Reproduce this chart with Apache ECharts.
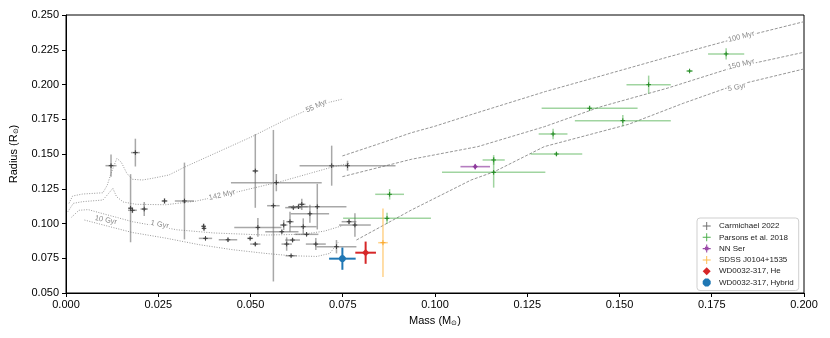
<!DOCTYPE html>
<html>
<head>
<meta charset="utf-8">
<script src="https://cdn.jsdelivr.net/npm/echarts@6/dist/echarts.min.js"></script>
<style>
  html, body { margin: 0; padding: 0; background: #fff; }
  #chart { width: 830px; height: 338px; }
</style>
</head>
<body>
<div id="chart"></div>
<script>
// each point: [mass, radius, massErr, radiusErr]
var carmichael = [
  [0.0122, 0.1416, 0.0015, 0.0080], [0.0188, 0.1510, 0.0012, 0.0100],
  [0.0175, 0.1110, 0.0006, 0.0245], [0.0180, 0.1095, 0.0012, 0.0020],
  [0.0212, 0.1104, 0.0010, 0.0050], [0.0267, 0.1162, 0.0008, 0.0020],
  [0.0321, 0.1162, 0.0026, 0.0276], [0.0373, 0.0980, 0.0005, 0.0020],
  [0.0374, 0.0965, 0.0005, 0.0015], [0.0378, 0.0893, 0.0018, 0.0010],
  [0.0439, 0.0883, 0.0025, 0.0015], [0.0499, 0.0893, 0.0008, 0.0010],
  [0.0513, 0.0852, 0.0014, 0.0015], [0.0513, 0.1378, 0.0008, 0.0265],
  [0.0520, 0.0972, 0.0064, 0.0068], [0.0570, 0.1294, 0.0123, 0.0062],
  [0.0562, 0.1128, 0.0017, 0.0545], [0.0720, 0.1416, 0.0006, 0.0144],
  [0.0763, 0.1416, 0.0130, 0.0036], [0.0616, 0.1114, 0.0022, 0.0010],
  [0.0630, 0.1121, 0.0025, 0.0015], [0.0639, 0.1138, 0.0010, 0.0040],
  [0.0681, 0.1121, 0.0079, 0.0164], [0.0661, 0.1070, 0.0052, 0.0065],
  [0.0590, 0.0989, 0.0010, 0.0036], [0.0585, 0.0941, 0.0045, 0.0010],
  [0.0607, 0.1013, 0.0010, 0.0072], [0.0643, 0.0977, 0.0036, 0.0060],
  [0.0652, 0.0922, 0.0032, 0.0012], [0.0598, 0.0852, 0.0014, 0.0048],
  [0.0614, 0.0881, 0.0020, 0.0015], [0.0677, 0.0852, 0.0027, 0.0043],
  [0.0733, 0.0833, 0.0054, 0.0048], [0.0610, 0.0768, 0.0015, 0.0008],
  [0.0767, 0.1013, 0.0020, 0.0018], [0.0783, 0.0989, 0.0043, 0.0084]
];
var parsons = [
  [0.1789, 0.2220, 0.0049, 0.0040], [0.1690, 0.2097, 0.0009, 0.0006],
  [0.1579, 0.1999, 0.0060, 0.0065], [0.1419, 0.1829, 0.0130, 0.0020],
  [0.1509, 0.1740, 0.0130, 0.0040], [0.1320, 0.1644, 0.0039, 0.0038],
  [0.1329, 0.1500, 0.0070, 0.0015], [0.1159, 0.1457, 0.0030, 0.0035],
  [0.1159, 0.1368, 0.0140, 0.0110], [0.0877, 0.1210, 0.0039, 0.0038],
  [0.0870, 0.1037, 0.0119, 0.0040]
];
var nnSer = [[0.1109, 0.1409, 0.0040, 0.0020]];
var sdss = [[0.0859, 0.0862, 0.0013, 0.0246]];
var wdHe = [[0.0812, 0.0790, 0.0028, 0.0080]];
var wdHybrid = [[0.0749, 0.0747, 0.0036, 0.0080]];

// isochrones: [mass, radius]
var iso55Myr = [[0.0008,0.1145],[0.0018,0.1198],[0.0045,0.1212],[0.0100,0.1221],[0.0112,0.1277],
  [0.0122,0.1361],[0.0138,0.1469],[0.0150,0.1440],[0.0165,0.1360],[0.0180,0.1318],[0.0207,0.1313],
  [0.0234,0.1325],[0.0279,0.1349],[0.0324,0.1409],[0.0414,0.1517],[0.0504,0.1625],[0.0594,0.1745],
  [0.0684,0.1853],[0.0751,0.1896]];
var iso142Myr = [[0.0005,0.1085],[0.0020,0.1145],[0.0045,0.1157],[0.0100,0.1169],[0.0115,0.1215],
  [0.0127,0.1253],[0.0137,0.1193],[0.0155,0.1155],[0.0190,0.1138],[0.0270,0.1135],[0.0350,0.1160],
  [0.0430,0.1205],[0.0500,0.1250],[0.0580,0.1300],[0.0660,0.1360],[0.0720,0.1405],[0.0770,0.1433]];
var iso1Gyr = [[0.0015,0.1045],[0.0035,0.1095],[0.0060,0.1100],[0.0090,0.1078],[0.0180,0.1013],
  [0.0300,0.0955],[0.0400,0.0932],[0.0540,0.0917],[0.0640,0.0922],[0.0700,0.0945],[0.0750,0.0985]];
var iso10Gyr = [[0.0050,0.1025],[0.0100,0.0990],[0.0180,0.0935],[0.0270,0.0895],[0.0360,0.0848],
  [0.0450,0.0812],[0.0540,0.0785],[0.0610,0.0768],[0.0680,0.0763],[0.0715,0.0785],[0.0738,0.0865]];
var iso100Myr = [[0.0749,0.1486],[0.0850,0.1575],[0.0936,0.1653],[0.1000,0.1700],[0.1100,0.1785],
  [0.1300,0.1950],[0.1449,0.2061],[0.1629,0.2196],[0.1800,0.2320],[0.2000,0.2452]];
var iso150Myr = [[0.0749,0.1337],[0.0936,0.1462],[0.1116,0.1553],[0.1296,0.1696],[0.1449,0.1840],
  [0.1629,0.1973],[0.1800,0.2116],[0.2000,0.2232]];
var iso5Gyr = [[0.0787,0.0881],[0.0936,0.1097],[0.1026,0.1217],[0.1098,0.1313],[0.1161,0.1373],
  [0.1296,0.1553],[0.1525,0.1714],[0.1673,0.1865],[0.1800,0.1984],[0.2000,0.2112]];

// inline curve labels: [text, mass, radius, angle]
var isoLabels = [
  ['55 Myr', 0.0679, 0.1845, 24], ['142 Myr', 0.0423, 0.1205, 13],
  ['1 Gyr', 0.0254, 0.0993, -11], ['10 Gyr', 0.0108, 0.1025, -11],
  ['100 Myr', 0.1830, 0.2344, 14], ['150 Myr', 0.1830, 0.2145, 13],
  ['5 Gyr', 0.1818, 0.1980, 13]
];

var xTicks = [0, 0.025, 0.05, 0.075, 0.1, 0.125, 0.15, 0.175, 0.2];
var yTicks = [0.05, 0.075, 0.1, 0.125, 0.15, 0.175, 0.2, 0.225, 0.25];

var FONT = '"Liberation Sans", Arial, sans-serif';
var PLUS = 'path://M4.4,0H5.6V4.4H10V5.6H5.6V10H4.4V5.6H0V4.4H4.4Z';
var PLUS_DOT = 'path://M4.3,0H5.7V2.8H7.2V4.3H10V5.7H7.2V7.2H5.7V10H4.3V7.2H2.8V5.7H0V4.3H2.8V2.8H4.3Z';
var DIAMOND = 'path://M5,0L10,5L5,10L0,5Z';
var OCTAGON = 'path://M3,0H7L10,3V7L7,10H3L0,7V3Z';

function marker(kind, c, s, color) {
  if (kind === 'diamond') {
    return { type: 'polygon', shape: { points: [[c[0], c[1] - s], [c[0] + s, c[1]], [c[0], c[1] + s], [c[0] - s, c[1]]] }, style: { fill: color } };
  }
  if (kind === 'octagon') {
    var pts = [];
    for (var i = 0; i < 8; i++) {
      var a = Math.PI / 8 + i * Math.PI / 4;
      pts.push([c[0] + s * Math.cos(a), c[1] + s * Math.sin(a)]);
    }
    return { type: 'polygon', shape: { points: pts }, style: { fill: color } };
  }
  var kids = [
    { type: 'line', shape: { x1: c[0] - s, y1: c[1], x2: c[0] + s, y2: c[1] }, style: { stroke: color, lineWidth: 1 } },
    { type: 'line', shape: { x1: c[0], y1: c[1] - s, x2: c[0], y2: c[1] + s }, style: { stroke: color, lineWidth: 1 } }
  ];
  if (kind === 'dot') kids.push({ type: 'circle', shape: { cx: c[0], cy: c[1], r: 1.8 }, style: { fill: color } });
  return { type: 'group', children: kids };
}

function errorBars(barColor, barWidth, kind, markColor, size) {
  return function (params, api) {
    var m = api.value(0), r = api.value(1), dm = api.value(2), dr = api.value(3);
    var c = api.coord([m, r]);
    var xa = api.coord([m - dm, r])[0], xb = api.coord([m + dm, r])[0];
    var ya = api.coord([m, r - dr])[1], yb = api.coord([m, r + dr])[1];
    var st = { stroke: barColor, lineWidth: barWidth };
    return {
      type: 'group',
      children: [
        { type: 'line', shape: { x1: xa, y1: c[1], x2: xb, y2: c[1] }, style: st },
        { type: 'line', shape: { x1: c[0], y1: ya, x2: c[0], y2: yb }, style: st },
        marker(kind, c, size, markColor)
      ]
    };
  };
}

function isoLine(data, dash) {
  return {
    type: 'line', data: data, showSymbol: false, silent: true, z: 1,
    lineStyle: { color: dash ? '#8a8a8a' : '#9a9a9a', width: dash ? 0.9 : 1, type: dash ? [3, 1.6] : [1, 1.5] }
  };
}

function pointSeries(name, data, color, renderItem, z) {
  return { type: 'custom', name: name, data: data, renderItem: renderItem, itemStyle: { color: color }, z: z };
}

var chart = echarts.init(document.getElementById('chart'), null, { renderer: 'canvas' });

var option = {
  animation: false,
  backgroundColor: '#fff',
  textStyle: { fontFamily: FONT },
  grid: { left: 63, right: 26, top: 15, bottom: 45, show: true, borderColor: '#000', borderWidth: 1 },
  xAxis: {
    type: 'value', min: xTicks[0], max: xTicks[xTicks.length - 1], interval: 0.025,
    name: 'Mass (M{s|⊙})', nameLocation: 'middle', nameGap: 21,
    nameTextStyle: { fontSize: 11, color: '#000', fontFamily: FONT, rich: { s: { fontSize: 7, verticalAlign: 'bottom', padding: [6, 0, 0, 0] } } },
    axisLine: { show: true, onZero: false, lineStyle: { color: '#000', width: 1 } },
    axisTick: { show: true, length: 4, lineStyle: { color: '#000' } },
    axisLabel: { fontSize: 11, color: '#000', margin: 6, fontFamily: FONT, formatter: function (v) { return v.toFixed(3); } },
    splitLine: { show: false }
  },
  yAxis: {
    type: 'value', min: yTicks[0], max: yTicks[yTicks.length - 1], interval: 0.025,
    name: 'Radius (R{s|⊙})', nameLocation: 'middle', nameGap: 46,
    nameTextStyle: { fontSize: 11, color: '#000', fontFamily: FONT, rich: { s: { fontSize: 7, padding: [6, 0, 0, 0] } } },
    axisLine: { show: true, onZero: false, lineStyle: { color: '#000', width: 1 } },
    axisTick: { show: true, length: 4, lineStyle: { color: '#000' } },
    axisLabel: { fontSize: 11, color: '#000', margin: 7, fontFamily: FONT, formatter: function (v) { return v.toFixed(3); } },
    splitLine: { show: false }
  },
  legend: {
    orient: 'vertical', left: 697, top: 218,
    itemWidth: 14.6, itemHeight: 8, itemGap: 3.3,
    padding: [4, 5, 4, 5.7],
    backgroundColor: '#fff', borderColor: '#cfcfcf', borderWidth: 1, borderRadius: 3,
    textStyle: { fontSize: 8, color: '#222', fontFamily: FONT, lineHeight: 8 },
    data: [
      { name: 'Carmichael 2022', icon: PLUS },
      { name: 'Parsons et al. 2018', icon: PLUS },
      { name: 'NN Ser', icon: PLUS_DOT },
      { name: 'SDSS J0104+1535', icon: PLUS },
      { name: 'WD0032-317, He', icon: DIAMOND },
      { name: 'WD0032-317, Hybrid', icon: OCTAGON }
    ]
  },
  series: [
    isoLine(iso55Myr, false), isoLine(iso142Myr, false), isoLine(iso1Gyr, false), isoLine(iso10Gyr, false),
    isoLine(iso100Myr, true), isoLine(iso150Myr, true), isoLine(iso5Gyr, true),
    pointSeries('Carmichael 2022', carmichael, '#6e6e6e',
      errorBars('rgba(105,105,105,0.58)', 1.5, 'plus', '#3c3c3c', 2.3), 3),
    pointSeries('Parsons et al. 2018', parsons, '#4caf4c',
      errorBars('rgba(44,160,44,0.45)', 1.5, 'plus', '#238a23', 2.3), 4),
    pointSeries('NN Ser', nnSer, '#9b4aa8',
      errorBars('rgba(150,70,165,0.7)', 1.6, 'dot', '#8e3a9c', 2.5), 5),
    pointSeries('SDSS J0104+1535', sdss, '#fdbb4c',
      errorBars('rgba(255,180,60,0.6)', 1.5, 'plus', 'rgba(250,165,40,0.9)', 2.5), 5),
    pointSeries('WD0032-317, He', wdHe, '#d62728',
      errorBars('#d62728', 2, 'diamond', '#d62728', 3.6), 6),
    pointSeries('WD0032-317, Hybrid', wdHybrid, '#1f77b4',
      errorBars('#1f77b4', 2, 'octagon', '#1f77b4', 3.6), 6),
    {
      type: 'custom', silent: true, z: 2, data: isoLabels.map(function (d) { return [d[1], d[2], d[3], d[0]]; }),
      dimensions: ['x', 'y', 'angle', { name: 'text', type: 'ordinal' }],
      renderItem: function (params, api) {
        var item = isoLabels[params.dataIndex];
        var c = api.coord([item[1], item[2]]);
        return {
          type: 'text', x: c[0], y: c[1], rotation: item[3] * Math.PI / 180,
          style: {
            text: item[0], fill: '#8a8a8a', font: '7.5px ' + FONT,
            align: 'center', verticalAlign: 'middle',
            backgroundColor: '#fff', padding: [0, 1]
          }
        };
      }
    }
  ]
};

chart.setOption(option);
</script>
</body>
</html>
